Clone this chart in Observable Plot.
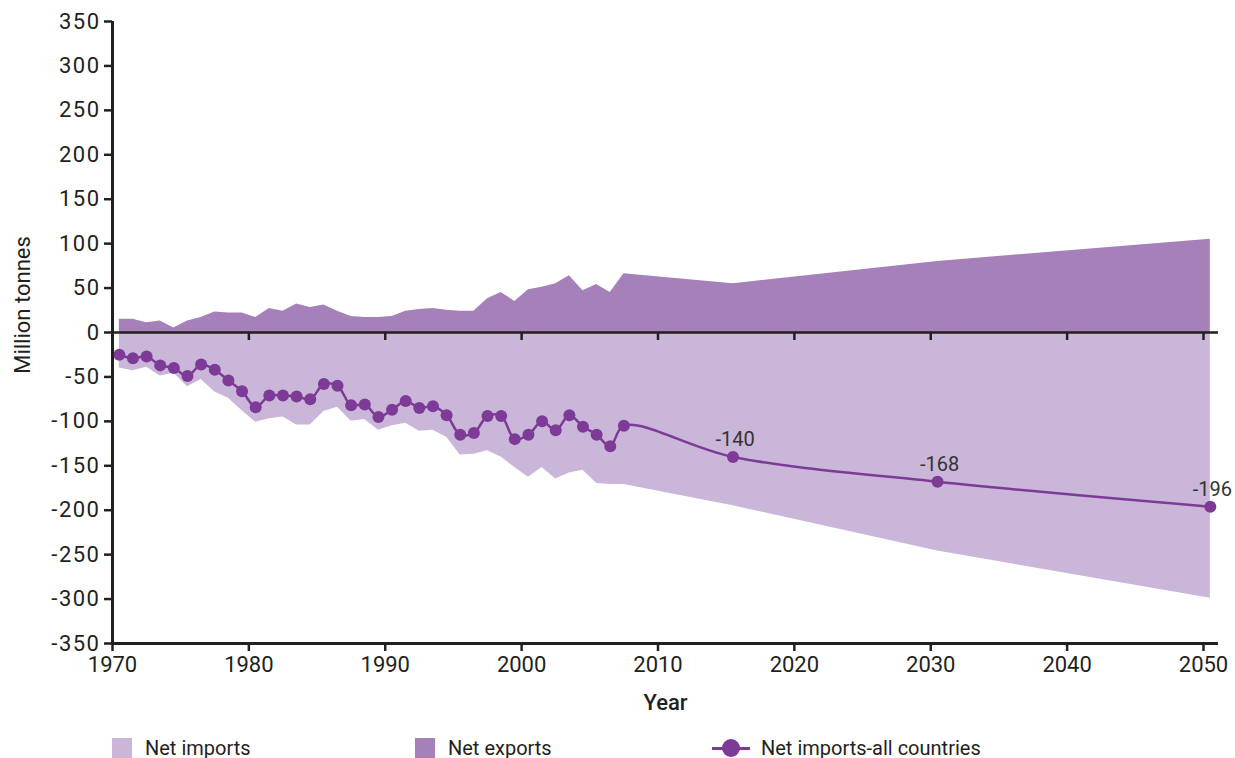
<!DOCTYPE html>
<html>
<head>
<meta charset="utf-8">
<script src="https://cdn.jsdelivr.net/npm/d3@7"></script>
<script src="https://cdn.jsdelivr.net/npm/@observablehq/plot@0.6"></script>
<style>
  html, body { margin: 0; padding: 0; background: #fff; }
  body { width: 1235px; height: 758px; overflow: hidden; position: relative; font-family: Roboto, sans-serif; color: #231f20; }
  #legend { position: absolute; left: 0; top: 737px; width: 1235px; height: 24px; font-size: 20px; }
  .item { position: absolute; top: 0; display: flex; align-items: center; height: 22px; }
  .sw { width: 20px; height: 20px; margin-right: 13px; }
  .lsw { position: relative; width: 38px; height: 20px; margin-right: 11px; }
  .lsw .ln { position: absolute; left: 0; right: 0; top: 9px; height: 3px; background: #7d3b97; }
  .lsw .dt { position: absolute; left: 10px; top: 1px; width: 18px; height: 18px; border-radius: 50%; background: #7d3b97; }
  #ylabel { position: absolute; left: 22px; top: 305px; transform: translate(-50%, -50%) rotate(-90deg); white-space: nowrap; font-size: 22px; color: #231f20; }
  svg g[aria-label="y-axis tick label"] text { letter-spacing: 1.5px; }
</style>
</head>
<body>
<div id="chart"></div>
<div id="ylabel">Million tonnes</div>
<div id="legend">
  <div class="item" style="left:112px"><div class="sw" style="background:#c9b6d9"></div><span>Net imports</span></div>
  <div class="item" style="left:415px"><div class="sw" style="background:#a580b9"></div><span>Net exports</span></div>
  <div class="item" style="left:712px"><div class="lsw"><div class="ln"></div><div class="dt"></div></div><span>Net imports-all countries</span></div>
</div>
<script>
const years = [1970,1971,1972,1973,1974,1975,1976,1977,1978,1979,
               1980,1981,1982,1983,1984,1985,1986,1987,1988,1989,
               1990,1991,1992,1993,1994,1995,1996,1997,1998,1999,
               2000,2001,2002,2003,2004,2005,2006,2007,2015,2030,2050];
const netImportsAll = [-25,-29,-27,-37,-40,-49,-36,-42,-54,-66,
                       -84,-71,-71,-72,-75,-58,-60,-82,-81,-95,
                       -87,-77,-85,-83,-93,-115,-113,-94,-94,-120,
                       -115,-100,-110,-93,-106,-115,-128,-105,-140,-168,-196];
const netExports = [15,15,11,13,5,13,17,23,22,22,
                    17,27,24,32,28,31,24,18,17,17,
                    18,24,26,27,25,24,24,38,45,35,
                    48,51,55,64,47,54,45,66,55,80,105];
const netImports = [-40,-43,-39,-49,-46,-61,-53,-67,-74,-88,
                    -101,-97,-95,-104,-104,-89,-84,-100,-98,-110,
                    -105,-102,-111,-110,-118,-138,-137,-133,-140,-152,
                    -163,-152,-165,-158,-155,-170,-171,-171,-195,-246,-299];
const labelledYears = [2015, 2030, 2050];
const xTicks = [1970,1980,1990,2000,2010,2020,2030,2040,2050];
const yTicks = [-350,-300,-250,-200,-150,-100,-50,0,50,100,150,200,250,300,350];

const data = years.map((year, i) => ({year, all: netImportsAll[i], exp: netExports[i], imp: netImports[i]}));
const xc = d => d.year + 0.5;

const W = 1235, H = 725, mt = 21, mb = 82;
const innerH = H - mt - mb;
const ink = "#231f20";
const purple = "#7d3b97";

const chart = Plot.plot({
  width: W, height: H,
  marginLeft: 112, marginRight: 17, marginTop: mt, marginBottom: mb,
  style: {fontFamily: "Roboto, sans-serif", fontSize: "22px", color: ink, background: "white", overflow: "visible"},
  x: {domain: [1970, 2051.1]},
  y: {domain: [-350, 350]},
  marks: [
    Plot.areaY(data, {x: xc, y1: 0, y2: "imp", fill: "#c9b6d9"}),
    Plot.areaY(data, {x: xc, y1: 0, y2: "exp", fill: "#a580b9"}),
    Plot.ruleY([0], {stroke: ink, strokeWidth: 2.5}),
    Plot.axisX({ticks: xTicks, tickSize: 8, tickFormat: () => "", label: null, dy: -innerH / 2, stroke: ink, strokeWidth: 2.5}),
    Plot.line(data, {x: xc, y: "all", stroke: purple, strokeWidth: 2.5, curve: "catmull-rom"}),
    Plot.dot(data, {x: xc, y: "all", r: 6, fill: purple}),
    Plot.text(data.filter(d => labelledYears.includes(d.year)), {x: xc, y: "all", text: d => String(d.all), dx: 2, dy: -17, fontSize: 20, fill: "#333"}),
    Plot.ruleX([1970], {stroke: ink, strokeWidth: 3}),
    Plot.ruleY([-350], {stroke: ink, strokeWidth: 3}),
    Plot.axisY({ticks: yTicks, tickSize: 8, tickPadding: 4, fontSize: 22, tickFormat: d => String(d), label: null, stroke: ink, strokeWidth: 2.5}),
    Plot.axisX({ticks: xTicks, tickSize: 8, tickPadding: 5, fontSize: 22, tickFormat: d => String(d), label: null, stroke: ink, strokeWidth: 2.5}),
    Plot.text(["Year"], {frameAnchor: "bottom", dy: 66, fontSize: 22, fontWeight: 500, fill: ink})
  ]
});
document.getElementById("chart").appendChild(chart);
</script>
</body>
</html>
